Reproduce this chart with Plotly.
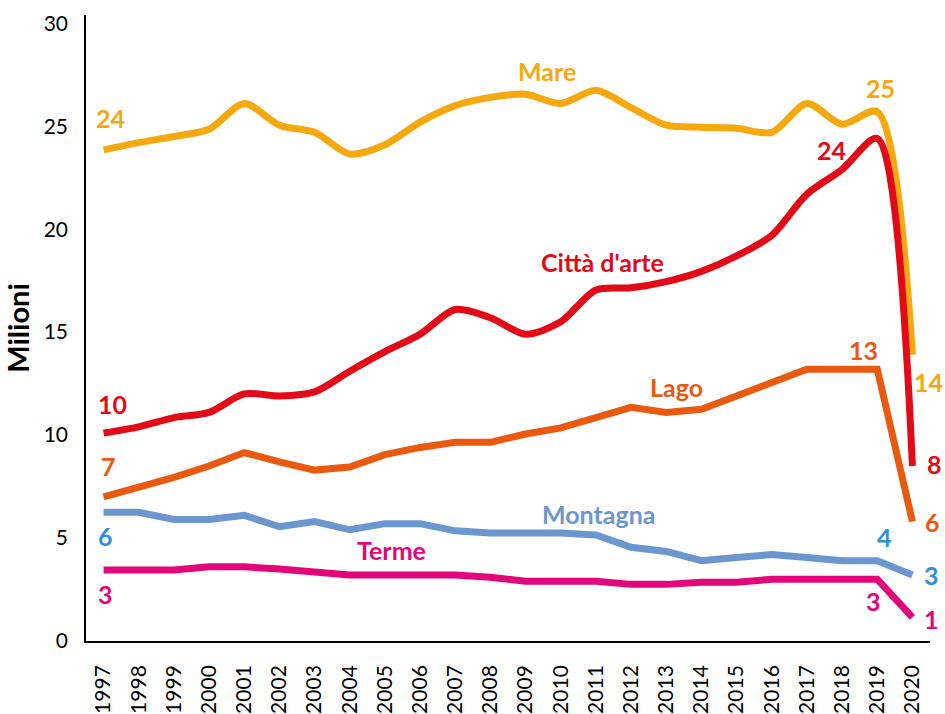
import plotly.graph_objects as go

years = [str(y) for y in range(1997, 2021)]

mare = [23.85, 24.2, 24.5, 24.85, 26.1, 25.05, 24.7, 23.65, 24.1, 25.2, 26.0, 26.4,
        26.55, 26.1, 26.75, 25.9, 25.05, 24.95, 24.9, 24.7, 26.1, 25.1, 25.7, 13.9]
citta = [10.1, 10.4, 10.85, 11.1, 12.0, 11.9, 12.1, 13.1, 14.05, 14.9, 16.1, 15.7,
         14.9, 15.5, 17.05, 17.15, 17.45, 17.95, 18.7, 19.7, 21.7, 22.9, 24.4, 8.5]
lago = [7.0, 7.45, 7.95, 8.5, 9.15, 8.7, 8.3, 8.45, 9.05, 9.4, 9.65, 9.65,
        10.05, 10.35, 10.85, 11.35, 11.1, 11.25, 11.9, 12.55, 13.2, 13.2, 13.2, 5.8]
montagna = [6.25, 6.25, 5.9, 5.9, 6.1, 5.55, 5.8, 5.4, 5.7, 5.7, 5.35, 5.25,
            5.25, 5.25, 5.15, 4.55, 4.35, 3.9, 4.05, 4.2, 4.05, 3.9, 3.9, 3.2]
terme = [3.45, 3.45, 3.45, 3.6, 3.6, 3.5, 3.35, 3.2, 3.2, 3.2, 3.2, 3.1,
         2.9, 2.9, 2.9, 2.75, 2.75, 2.85, 2.85, 3.0, 3.0, 3.0, 3.0, 1.15]

C_MARE = "#F7A80F"
C_CITTA = "#E30A17"
C_LAGO = "#E9590F"
C_MONT = "#6B96CF"
C_MONT_LBL = "#2E90D6"
C_TERME = "#E2067A"

series = [
    ("Mare", mare, C_MARE, "spline"),
    ("Città d'arte", citta, C_CITTA, "spline"),
    ("Lago", lago, C_LAGO, "linear"),
    ("Montagna", montagna, C_MONT, "linear"),
    ("Terme", terme, C_TERME, "linear"),
]

fig = go.Figure()
for name, vals, col, shape in series:
    fig.add_trace(go.Scatter(
        x=years, y=vals, mode="lines", name=name,
        line=dict(color=col, width=7, shape=shape, smoothing=0.8),
        cliponaxis=False,
    ))

FONT = "Lato, 'Open Sans', sans-serif"
N = len(years)

# (text, x category index, y value, color)
labels = [
    ("24", 0.2, 25.4, C_MARE),
    ("Mare", 12.6, 27.7, C_MARE),
    ("25", 22.1, 26.85, C_MARE),
    ("14", 23.45, 12.6, C_MARE),
    ("24", 20.7, 23.85, C_CITTA),
    ("Città d'arte", 14.2, 18.4, C_CITTA),
    ("10", 0.25, 11.5, C_CITTA),
    ("8", 23.62, 8.6, C_CITTA),
    ("7", 0.15, 8.5, C_LAGO),
    ("13", 21.6, 14.15, C_LAGO),
    ("Lago", 16.3, 12.35, C_LAGO),
    ("6", 23.58, 5.8, C_LAGO),
    ("6", 0.05, 5.1, C_MONT_LBL),
    ("Montagna", 14.1, 6.15, C_MONT),
    ("4", 22.2, 5.05, C_MONT_LBL),
    ("3", 23.53, 3.2, C_MONT_LBL),
    ("Terme", 8.2, 4.4, C_TERME),
    ("3", 0.05, 2.3, C_TERME),
    ("3", 21.9, 1.95, C_TERME),
    ("1", 23.55, 1.07, C_TERME),
]
for txt, xi, yv, col in labels:
    fig.add_annotation(x=(xi + 0.5) / N, y=yv, xref="paper", yref="y",
                       xanchor="center", yanchor="middle",
                       text="<b>%s</b>" % txt, showarrow=False,
                       font=dict(family=FONT, size=25, color=col))

fig.update_layout(
    width=945, height=714,
    margin=dict(l=86, r=15, t=15, b=73),
    plot_bgcolor="white", paper_bgcolor="white",
    showlegend=False,
    font=dict(family=FONT, color="black"),
)
fig.update_xaxes(
    type="category", range=[-0.5, 23.5], automargin=False,
    showline=True, linecolor="black", linewidth=1.5,
    showgrid=False, ticks="", tickangle=-90,
    tickfont=dict(family=FONT, size=21, color="black"),
    ticklabelstandoff=14,
)
fig.update_yaxes(
    range=[0, 30.4], tickvals=[0, 5, 10, 15, 20, 25, 30], automargin=False,
    showline=True, linecolor="black", linewidth=1.5,
    showgrid=False, ticks="", zeroline=False,
    tickfont=dict(family=FONT, size=21, color="black"),
    ticklabelstandoff=12,
    title=dict(text="<b>Milioni</b>", font=dict(family=FONT, size=29, color="black"), standoff=16),
)

fig.write_html(
    "out.html",
    config={"displayModeBar": False},
    post_script="document.body.style.margin='0';document.body.style.overflow='hidden';",
)
